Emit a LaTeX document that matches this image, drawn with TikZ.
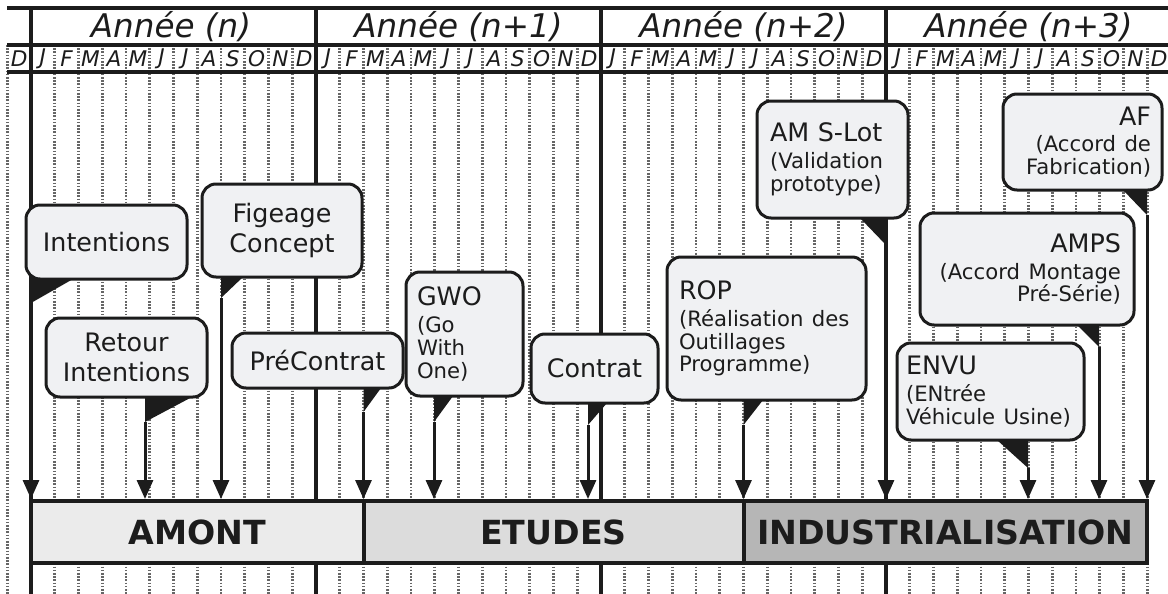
\documentclass[tikz,border=0pt]{standalone}
\usepackage{fontspec}
\setmainfont{DejaVu Sans}[ItalicFont={DejaVu Sans Oblique},BoldFont={DejaVu Sans Bold}]
\usetikzlibrary{arrows.meta}
\definecolor{ink}{RGB}{28,28,28}
\definecolor{boxfill}{RGB}{240,241,243}
\definecolor{amontfill}{RGB}{235,235,235}
\definecolor{etudesfill}{RGB}{220,220,220}
\definecolor{indusfill}{RGB}{182,182,182}
\newcommand{\subtxt}{\fontsize{10.6}{11.4}\selectfont}

\begin{document}
\begin{tikzpicture}[x=0.5pt,y=-0.5pt,
	callout/.style={draw=ink,line width=1.5pt,rounded corners=7pt,fill=boxfill,inner sep=0pt,
		font=\fontsize{12.7}{15}\selectfont,text=ink},
	phase/.style={draw=ink,line width=2pt,inner sep=0pt,minimum height=31pt,
		font=\fontsize{16.6}{18}\bfseries\selectfont,text=ink},
	month/.style={font=\fontsize{10.8}{12}\itshape\selectfont,text=ink},
	year/.style={font=\fontsize{16.3}{18}\itshape\selectfont,text=ink},
	monthline/.style={draw=black!60,line width=1.3pt,dash pattern=on 0.8pt off 0.8pt},
	yearline/.style={draw=ink,line width=2.25pt},
	milestone/.style={draw=ink,line width=1.5pt,-{Triangle[width=8pt,length=9.5pt]}},
	tail/.style={fill=ink}]
	\useasboundingbox (0,0) rectangle (1168,594);
	
	% grille des mois et des annees
	\foreach \k in {0,...,48}
		\draw[monthline] ({7.25+23.75*\k},45) -- ({7.25+23.75*\k},594);
	\foreach \x in {31,316,601,886}
		\draw[yearline] (\x,8) -- (\x,594);
	\foreach \y in {8,45,72}
		\draw[yearline] (7,\y) -- (1170,\y);
	
	\node[year](y0)at(171,26.5) {Année (n)};
	\node[year](y1)at(458.5,26.5) {Année (n+1)};
	\node[year](y2)at(743.5,26.5) {Année (n+2)};
	\node[year](y3)at(1028.5,26.5) {Année (n+3)};
	
	\foreach \m [count=\i from 0] in {D,J,F,M,A,M,J,J,A,S,O,N,D,J,F,M,A,M,J,J,A,S,O,N,D,J,F,M,A,M,J,J,A,S,O,N,D,J,F,M,A,M,J,J,A,S,O,N,D}
		\node[month](m\i)at({19.1+23.75*\i},58.5) {\m};
	
	% phases
	\node[phase,fill=amontfill,minimum width=166.25pt](amont)at(197.25,532) {AMONT};
	\node[phase,fill=etudesfill,minimum width=190pt](etudes)at(553.5,532) {ETUDES};
	\node[phase,fill=indusfill,minimum width=201.75pt](indus)at(945.25,532) {INDUSTRIALISATION};
	
	% jalons
	\node[callout,minimum width=80.5pt,minimum height=37pt](intent)at(106.5,242) {Intentions};
	\node[callout,minimum width=80pt,minimum height=46.5pt,align=center](figeage)at(282,230.5) {Figeage\\Concept};
	\node[callout,minimum width=80.5pt,minimum height=39.5pt,align=center](retour)at(126.5,357.5) {Retour\\Intentions};
	\node[callout,minimum width=85.5pt,minimum height=27.5pt](precontrat)at(317.5,360.5) {PréContrat};
	\node[callout,minimum width=58.5pt,minimum height=62pt,text width=47.5pt,align=left](gwo)at(464.5,334) {GWO\\[2pt]\subtxt (Go\\With\\One)\par};
	\node[callout,minimum width=63.5pt,minimum height=34.5pt](contrat)at(594.5,368.5) {Contrat};
	\node[callout,minimum width=99.5pt,minimum height=71.5pt,text width=87.5pt,align=left](rop)at(766.5,328.5) {ROP\\[2pt]\subtxt (Réalisation des\\Outillages\\Programme)\par};
	\node[callout,minimum width=75.5pt,minimum height=58.5pt,text width=62.5pt,align=left](amslot)at(832.5,159.5) {AM S-Lot\\[2pt]\subtxt (Validation\\prototype)\par};
	\node[callout,minimum width=79.5pt,minimum height=48pt,text width=68.5pt,align=right](af)at(1082.5,142) {AF\\[2pt]\subtxt (Accord de\\Fabrication)\par};
	\node[callout,minimum width=107pt,minimum height=56pt,text width=94pt,align=right](amps)at(1027,269) {AMPS\\[2pt]\subtxt (Accord Montage\\Pré-Série)\par};
	\node[callout,minimum width=93.5pt,minimum height=48.5pt,text width=84.5pt,align=left](envu)at(990.5,391.5) {ENVU\\[2pt]\subtxt (ENtrée\\Véhicule Usine)\par};
	
	\coordinate(intentT)at(31,303);
	\coordinate(figeageT)at(221,298);
	\coordinate(retourT)at(145,422);
	\coordinate(precontratT)at(363.5,412);
	\coordinate(gwoT)at(434,422);
	\coordinate(contratT)at(588,425);
	\coordinate(ropT)at(743.5,425);
	\coordinate(amslotT)at(886,245);
	\coordinate(afT)at(1147,215);
	\coordinate(ampsT)at(1099,347);
	\coordinate(envuT)at(1028,468);
	
	\fill[tail] (31,279) -- (73,279) -- (intentT) -- cycle;
	\fill[tail] (221,277) -- (243,277) -- (figeageT) -- cycle;
	\fill[tail] (145,397) -- (192,397) -- (retourT) -- cycle;
	\fill[tail] (363.5,388) -- (381,388) -- (precontratT) -- cycle;
	\fill[tail] (434,396) -- (453,396) -- (gwoT) -- cycle;
	\fill[tail] (588,403) -- (607,403) -- (contratT) -- cycle;
	\fill[tail] (743.5,400) -- (763,400) -- (ropT) -- cycle;
	\fill[tail] (860,218) -- (886,218) -- (amslotT) -- cycle;
	\fill[tail] (1123,190) -- (1147,190) -- (afT) -- cycle;
	\fill[tail] (1077,325) -- (1099,325) -- (ampsT) -- cycle;
	\fill[tail] (997,440) -- (1028,440) -- (envuT) -- cycle;
	
	\draw[milestone] (intentT) -- (intentT |- amont.north);
	\draw[milestone] (figeageT) -- (figeageT |- amont.north);
	\draw[milestone] (retourT) -- (retourT |- amont.north);
	\draw[milestone] (precontratT) -- (precontratT |- etudes.north);
	\draw[milestone] (gwoT) -- (gwoT |- etudes.north);
	\draw[milestone] (contratT) -- (contratT |- etudes.north);
	\draw[milestone] (ropT) -- (ropT |- indus.north);
	\draw[milestone] (amslotT) -- (amslotT |- indus.north);
	\draw[milestone] (afT) -- (afT |- indus.north);
	\draw[milestone] (ampsT) -- (ampsT |- indus.north);
	\draw[milestone] (envuT) -- (envuT |- indus.north);
\end{tikzpicture}
\end{document}
